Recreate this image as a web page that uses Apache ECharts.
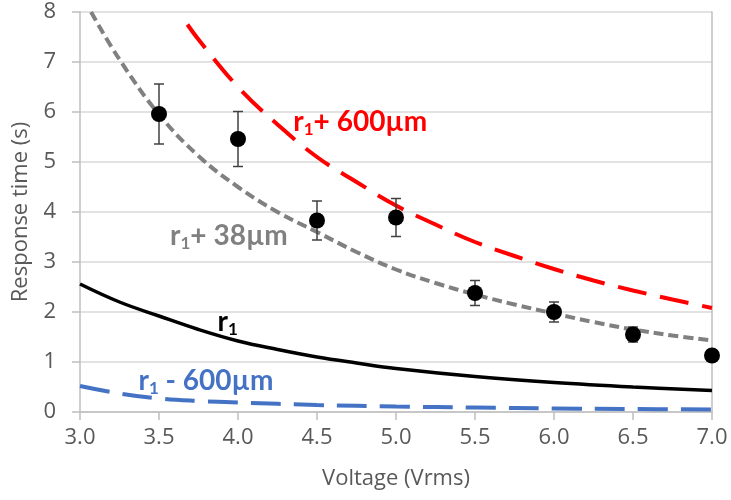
<!DOCTYPE html>
<html><head><meta charset="utf-8">
<script src="https://cdn.jsdelivr.net/npm/echarts@6/dist/echarts.min.js"></script>
<style>html,body{margin:0;padding:0;background:#fff}#c{width:731px;height:500px}</style>
</head><body><div id="c"></div>
<script>
// Measured points with error bars
var voltage = [3.5, 4.0, 4.5, 5.0, 5.5, 6.0, 6.5, 7.0];
var responseTime = [5.96, 5.46, 3.83, 3.89, 2.38, 2.0, 1.55, 1.13];
var errorBar = [0.6, 0.55, 0.39, 0.38, 0.25, 0.2, 0.15, 0.05];

// Model curves
var curveGrayX = [3.07, 3.25, 3.5, 3.75, 4.0, 4.25, 4.5, 4.75, 5.0, 5.25, 5.5, 5.75, 6.0, 6.25, 6.5, 6.75, 7.0];
var curveGrayY = [8.0, 7.05, 5.95, 5.12, 4.5, 4.0, 3.6, 3.2, 2.85, 2.58, 2.35, 2.15, 1.97, 1.8, 1.65, 1.53, 1.43];
var curveRedX = [3.68, 3.75, 4.0, 4.25, 4.5, 4.75, 5.0, 5.25, 5.5, 5.75, 6.0, 6.25, 6.5, 6.75, 7.0];
var curveRedY = [7.75, 7.45, 6.5, 5.75, 5.1, 4.6, 4.13, 3.75, 3.4, 3.12, 2.86, 2.63, 2.43, 2.25, 2.08];
var curveBlackX = [3.0, 3.25, 3.5, 3.75, 4.0, 4.25, 4.5, 4.75, 5.0, 5.5, 6.0, 6.5, 7.0];
var curveBlackY = [2.56, 2.2, 1.92, 1.65, 1.42, 1.25, 1.1, 0.98, 0.87, 0.71, 0.59, 0.5, 0.43];
var curveBlueX = [3.0, 3.25, 3.5, 3.75, 4.0, 4.5, 5.0, 5.5, 6.0, 6.5, 7.0];
var curveBlueY = [0.52, 0.37, 0.27, 0.22, 0.19, 0.14, 0.11, 0.09, 0.07, 0.06, 0.05];

// Axis
var xMin = 3.0, xMax = 7.0, xStep = 0.5;
var yMin = 0, yMax = 8, yStep = 1;
var xTitle = 'Voltage (Vrms)';
var yTitle = 'Response time (s)';

function pairs(xs, ys) { return xs.map(function (x, i) { return [x, ys[i]]; }); }

var chart = echarts.init(document.getElementById('c'), null, { renderer: 'canvas' });
var axisColor = '#595959';
var lineGray = '#bfbfbf';
var font = '"Open Sans", sans-serif';

var option = {
  animation: false,
  backgroundColor: '#ffffff',
  grid: { left: 80, right: 19, top: 12, bottom: 88 },
  xAxis: {
    type: 'value', min: xMin, max: xMax, interval: xStep,
    name: xTitle, nameLocation: 'middle', nameGap: 56,
    nameTextStyle: { color: axisColor, fontSize: 22, fontFamily: font },
    axisLine: { show: true, lineStyle: { color: lineGray, width: 1.5 } },
    axisTick: { show: true, length: 8, lineStyle: { color: lineGray, width: 1.5 } },
    axisLabel: { color: axisColor, fontSize: 22, fontFamily: font, margin: 15,
      formatter: function (v) { return v.toFixed(1); } },
    splitLine: { show: false }
  },
  yAxis: [{
    type: 'value', min: yMin, max: yMax, interval: yStep,
    name: yTitle, nameLocation: 'middle', nameGap: 48,
    nameTextStyle: { color: axisColor, fontSize: 22, fontFamily: font },
    axisLine: { show: true, lineStyle: { color: lineGray, width: 1.5 } },
    axisTick: { show: true, length: 8, lineStyle: { color: lineGray, width: 1.5 } },
    axisLabel: { color: axisColor, fontSize: 22, fontFamily: font, margin: 24 },
    splitLine: { show: true, lineStyle: { color: '#d9d9d9', width: 1.5 } }
  }, {
    type: 'value', min: yMin, max: yMax, interval: yStep, position: 'right',
    axisLine: { show: true, lineStyle: { color: lineGray, width: 1.5 } },
    axisTick: { show: false }, axisLabel: { show: false }, splitLine: { show: false }
  }],
  series: [
    { type: 'line', data: pairs(curveBlueX, curveBlueY), smooth: 0.4, symbol: 'none',
      lineStyle: { color: '#4472c4', width: 4, type: [30, 13] }, z: 2 },
    { type: 'line', data: pairs(curveBlackX, curveBlackY), smooth: 0.4, symbol: 'none',
      lineStyle: { color: '#000000', width: 3.5 }, z: 2 },
    { type: 'line', data: pairs(curveRedX, curveRedY), smooth: 0.4, symbol: 'none',
      lineStyle: { color: '#ff0000', width: 4, type: [29, 14] }, z: 2 },
    { type: 'line', data: pairs(curveGrayX, curveGrayY), smooth: 0.4, symbol: 'none',
      lineStyle: { color: '#808080', width: 4, type: [10, 5] }, z: 2 },
    { type: 'custom', z: 3,
      data: voltage.map(function (v, i) { return [v, responseTime[i] - errorBar[i], responseTime[i] + errorBar[i]]; }),
      renderItem: function (params, api) {
        var lo = api.coord([api.value(0), api.value(1)]);
        var hi = api.coord([api.value(0), api.value(2)]);
        var hw = 5;
        var st = { stroke: '#404040', lineWidth: 1.5, fill: null };
        return { type: 'group', children: [
          { type: 'line', shape: { x1: lo[0], y1: lo[1], x2: hi[0], y2: hi[1] }, style: st },
          { type: 'line', shape: { x1: lo[0] - hw, y1: lo[1], x2: lo[0] + hw, y2: lo[1] }, style: st },
          { type: 'line', shape: { x1: hi[0] - hw, y1: hi[1], x2: hi[0] + hw, y2: hi[1] }, style: st }
        ] };
      }
    },
    { type: 'scatter', data: pairs(voltage, responseTime), symbol: 'circle', symbolSize: 16,
      itemStyle: { color: '#000000', opacity: 1 }, z: 4 }
  ]
};
chart.setOption(option);

// Curve annotations anchored in data coordinates
var annFont = 'Lato, "Open Sans", sans-serif';
function ann(x, y, color, rest) {
  var p = chart.convertToPixel({ gridIndex: 0 }, [x, y]);
  return {
    type: 'text', x: p[0], y: p[1], z: 10,
    style: {
      text: '{b|r}{s|1}{b|' + rest + '}',
      verticalAlign: 'middle', align: 'left',
      rich: {
        b: { fontSize: 28, fontWeight: 'bold', fill: color, fontFamily: annFont, lineHeight: 34 },
        s: { fontSize: 17, fontWeight: 'bold', fill: color, fontFamily: annFont, lineHeight: 34, padding: [15, 0, 0, 0] }
      }
    }
  };
}
chart.setOption({ graphic: [
  ann(4.35, 5.8, '#ff0000', '+ 600µm'),
  ann(3.57, 3.52, '#808080', '+ 38µm'),
  ann(3.87, 1.8, '#000000', ''),
  ann(3.37, 0.62, '#4472c4', ' - 600µm')
] });
</script></body></html>
